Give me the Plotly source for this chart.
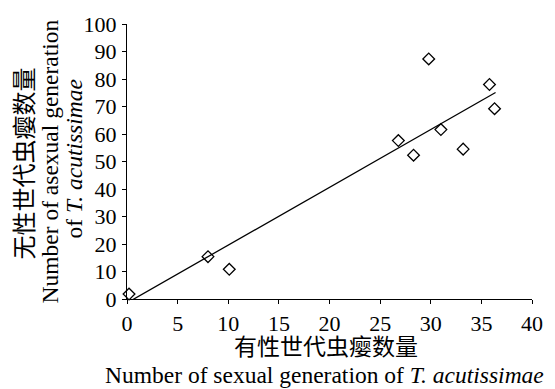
import plotly.graph_objects as go

# Data
sexual = [0.2, 8.0, 10.1, 26.8, 28.3, 29.8, 31.0, 33.2, 35.8, 36.3]
asexual = [1.8, 15.4, 10.8, 57.6, 52.3, 87.3, 61.6, 54.5, 78.0, 69.2]
fit_x = [0.2, 36.4]
fit_y = [-1.0, 75.1]
x_ticks = [0, 5, 10, 15, 20, 25, 30, 35, 40]
y_ticks = [0, 10, 20, 30, 40, 50, 60, 70, 80, 90, 100]

FONT = "Liberation Serif, Noto Sans CJK SC, serif"

L, R, T, B = 127, 23, 19, 90
W, H = 555, 389
PW, PH = W - L - R, H - T - B

def px(x):
    return (x - L) / PW

def py(y):
    return (H - B - y) / PH

fig = go.Figure()
fig.add_trace(go.Scatter(x=fit_x, y=fit_y, mode="lines",
                         line=dict(color="black", width=1.3), showlegend=False))
fig.add_trace(go.Scatter(x=sexual, y=asexual, mode="markers",
                         marker=dict(symbol="diamond-open", size=9, color="black",
                                     line=dict(width=1.3, color="black")),
                         showlegend=False, cliponaxis=False))

axis_common = dict(showline=True, linecolor="black", linewidth=1.2, ticks="outside",
                   ticklen=4, tickwidth=1.2, tickcolor="black", showgrid=False,
                   zeroline=False,
                   tickfont=dict(family=FONT, size=22, color="black"))

fig.update_xaxes(range=[0, 40], tickvals=x_ticks, **axis_common)
fig.update_yaxes(range=[0, 100], tickvals=y_ticks, ticklabelstandoff=1, **axis_common)

ann = [
    dict(text="无性世代虫瘿数量", x=px(25), y=py(161), size=24),
    dict(text="Number of asexual generation", x=px(49), y=py(159), size=23.5),
    dict(text="of <i>T. acutissimae</i>", x=px(74), y=py(156), size=23.5),
]
for a in ann:
    fig.add_annotation(text=a["text"], x=a["x"], y=a["y"], xref="paper", yref="paper",
                       xanchor="center", yanchor="middle", textangle=-90, showarrow=False,
                       font=dict(family=FONT, size=a["size"], color="black"))

fig.add_annotation(text="有性世代虫瘿数量", x=px(326), y=py(348), xref="paper", yref="paper",
                   xanchor="center", yanchor="middle", showarrow=False,
                   font=dict(family=FONT, size=23, color="black"))
fig.add_annotation(text="Number of sexual generation of <i>T. acutissimae</i>", x=px(324), y=py(376),
                   xref="paper", yref="paper", xanchor="center", yanchor="middle", showarrow=False,
                   font=dict(family=FONT, size=23.5, color="black"))

fig.update_layout(width=W, height=H, margin=dict(l=L, r=R, t=T, b=B),
                  font=dict(family=FONT, color="black"),
                  plot_bgcolor="white", paper_bgcolor="white")

fig.write_html("out.html")
